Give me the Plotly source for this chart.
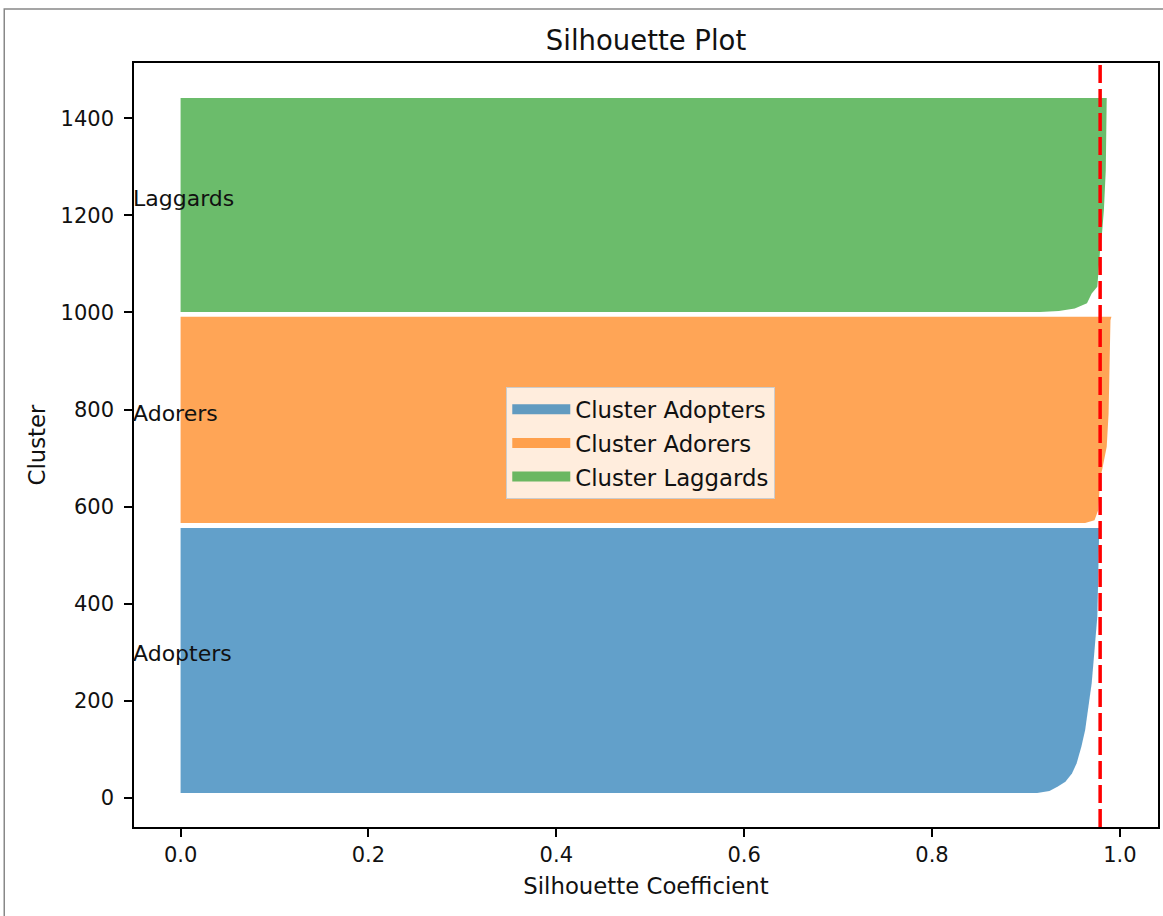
import plotly.graph_objects as go

# ---- data ----
cluster_names = ["Adopters", "Adorers", "Laggards"]
cluster_sizes = [546, 425, 441]
cluster_gap = 10
first_y = 10

adopters_rank = [0, 4, 13, 23, 40, 61, 95, 129, 171, 226, 294, 363, 450, 546]
adopters_coef = [0.912, 0.925, 0.934, 0.942, 0.949, 0.954, 0.959, 0.963, 0.966, 0.970, 0.973, 0.976, 0.977, 0.978]

adorers_rank = [0, 6, 27, 89, 116, 157, 226, 329, 418, 425]
adorers_coef = [0.963, 0.973, 0.977, 0.979, 0.982, 0.986, 0.988, 0.989, 0.990, 0.991]

laggards_rank = [0, 2, 7, 18, 38, 52, 80, 128, 162, 210, 292, 382, 441]
laggards_coef = [0.915, 0.935, 0.952, 0.965, 0.970, 0.976, 0.977, 0.979, 0.981, 0.983, 0.985, 0.986, 0.986]

avg_score = 0.979

x_ticks = [0.0, 0.2, 0.4, 0.6, 0.8, 1.0]
y_ticks = [0, 200, 400, 600, 800, 1000, 1200, 1400]

profiles = [(adopters_rank, adopters_coef), (adorers_rank, adorers_coef), (laggards_rank, laggards_coef)]
fill_colors = ["rgba(31,119,180,0.7)", "rgba(255,127,14,0.7)", "rgba(44,160,44,0.7)"]

FONT = "DejaVu Sans"
TXT = "#111111"
fig = go.Figure()
annotations = []
y_lower = first_y
for i, (name, size, (ranks, coefs), col) in enumerate(zip(cluster_names, cluster_sizes, profiles, fill_colors)):
    ys = [y_lower + r for r in ranks]
    y_upper = y_lower + size
    fig.add_trace(go.Scatter(
        x=[0] + coefs + [0], y=[y_lower] + ys + [y_upper],
        mode="lines", fill="toself", fillcolor=col,
        line=dict(width=0, color=col), name=f"Cluster {name}",
        showlegend=False, hoverinfo="skip"))
    # legend entry (thick swatch like matplotlib's patch)
    fig.add_trace(go.Scatter(
        x=[None], y=[None], mode="lines", line=dict(width=16, color=col),
        name=f"Cluster {name}", legendgroup=f"g{i}", showlegend=True))
    annotations.append(dict(
        x=0, y=y_lower + 0.5 * size, xref="paper", yref="y", text=name,
        showarrow=False, xanchor="left", yanchor="bottom", yshift=-8, xshift=-3,
        font=dict(family=FONT, size=22, color=TXT)))
    y_lower = y_upper + cluster_gap

fig.add_shape(type="line", xref="x", yref="paper", x0=avg_score, x1=avg_score, y0=0, y1=1,
              line=dict(color="red", width=3.5, dash="18px,6px"))

# outer screenshot frame
fig.add_shape(type="rect", xref="paper", yref="paper",
              x0=(4 - 134) / 1026, x1=(1175 - 134) / 1026,
              y0=(827 - 930) / 764, y1=(827 - 9) / 764,
              line=dict(color="#888888", width=1.5), fillcolor="rgba(0,0,0,0)", layer="below")

axis_common = dict(showgrid=False, zeroline=False, showline=True, mirror=True,
                   linecolor="black", linewidth=1.5, ticks="outside", ticklen=8,
                   tickwidth=1.5, tickcolor="black",
                   tickfont=dict(family=FONT, size=21, color=TXT))

fig.update_layout(
    width=1163, height=916,
    margin=dict(l=134, r=3, t=63, b=89),
    paper_bgcolor="white", plot_bgcolor="white",
    title=dict(text="Silhouette Plot", x=0.5, xref="paper", xanchor="center",
               y=1 - 40 / 916, yanchor="middle",
               font=dict(family=FONT, size=27.5, color=TXT)),
    xaxis=dict(range=[-0.0496, 1.0406], tickvals=x_ticks, tickformat=".1f",
               title=dict(text="Silhouette Coefficient", standoff=12,
                          font=dict(family=FONT, size=22.8, color=TXT)),
               **axis_common),
    yaxis=dict(range=[-60.3, 1514], tickvals=y_ticks, ticklabelstandoff=6,
               title=dict(text="Cluster", standoff=9,
                          font=dict(family=FONT, size=22.8, color=TXT)),
               **axis_common),
    legend=dict(x=(507 - 134) / 1026, y=(827 - 387) / 764, xanchor="left", yanchor="top",
                bgcolor="rgba(255,255,255,0.8)", bordercolor="#cccccc", borderwidth=1,
                font=dict(family=FONT, size=22.8, color=TXT), itemwidth=58,
                tracegroupgap=1, traceorder="grouped"),
    annotations=annotations,
    showlegend=True,
)

fig.write_html("out.html")
